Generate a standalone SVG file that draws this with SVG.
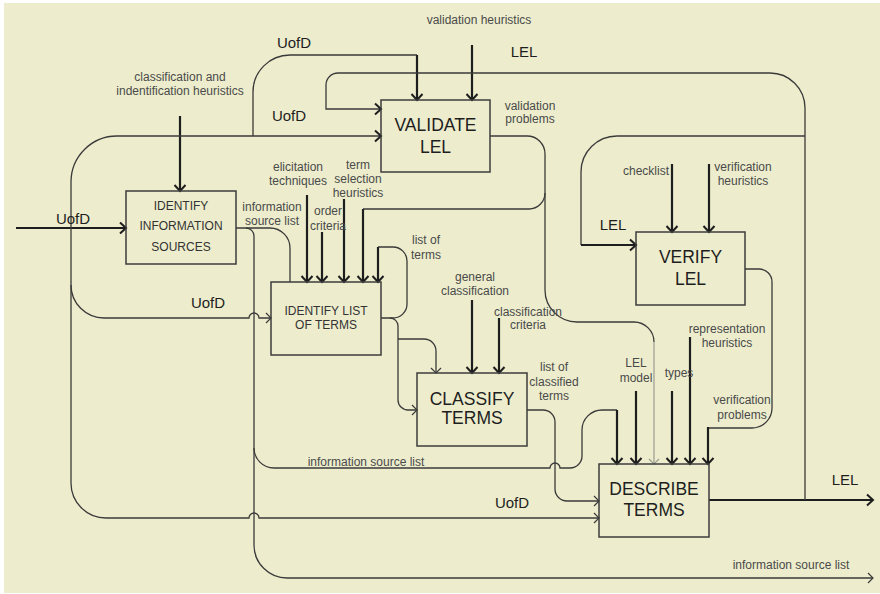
<svg xmlns="http://www.w3.org/2000/svg" width="880" height="594" viewBox="0 0 880 594">
<style>
text{font-family:"Liberation Sans",Arial,sans-serif;text-anchor:middle}
.lbl{font-size:12px;fill:#4a4a4a}
.big{font-size:15px;fill:#1e1e1e}
.t17{font-size:17.5px;fill:#1e1e1e}
.t12{font-size:12px;fill:#333}
.box{fill:none;stroke:#3c3c3c;stroke-width:1.5}
.ln{fill:none;stroke:#3a3a3a;stroke-width:1.3}
.tk{fill:none;stroke:#1e1e1e;stroke-width:2.2}
.gr{fill:none;stroke:#9a9a90;stroke-width:1.2}
</style>
<defs>
<marker id="ak" markerUnits="userSpaceOnUse" viewBox="-8 -8 10 16" refX="0" refY="0" markerWidth="10" markerHeight="16" orient="auto" overflow="visible">
<path d="M-6,-5.5 L0,0 L-6,5.5" fill="none" stroke="#1e1e1e" stroke-width="2"/>
</marker>
<marker id="an" markerUnits="userSpaceOnUse" viewBox="-8 -8 10 16" refX="0" refY="0" markerWidth="10" markerHeight="16" orient="auto" overflow="visible">
<path d="M-5,-5 L0,0 L-5,5" fill="none" stroke="#3a3a3a" stroke-width="1.2"/>
</marker>
<marker id="ag" markerUnits="userSpaceOnUse" viewBox="-8 -8 10 16" refX="0" refY="0" markerWidth="10" markerHeight="16" orient="auto" overflow="visible">
<path d="M-5,-5 L0,0 L-5,5" fill="none" stroke="#9a9a90" stroke-width="1.2"/>
</marker>
</defs>
<rect x="0" y="0" width="880" height="594" fill="#ffffff"/>
<rect x="4" y="3" width="876" height="590" fill="#EDEDCD"/>

<g id="connectors">
<!-- classification heuristics -->
<path class="tk" d="M180,116 V191" marker-end="url(#ak)"/>
<!-- UofD external input -->
<path class="tk" d="M16,228 H126" marker-end="url(#ak)"/>
<!-- UofD distribution -->
<path class="ln" d="M71,483 V182 A46,46 0 0 1 117,136 H381" marker-end="url(#ak)"/>
<path class="ln" d="M71,483 A35,35 0 0 0 106,518 H249 A5,5 0 0 1 259,518 H599" marker-end="url(#an)"/>
<path class="ln" d="M71,285 A33,33 0 0 0 104,318 H249 A5,5 0 0 1 259,318 H271" marker-end="url(#an)"/>
<path class="ln" d="M253,136 V92 A37,37 0 0 1 290,55 H417"/>
<path class="tk" d="M417,55 V100" marker-end="url(#ak)"/>
<!-- validation heuristics -->
<path class="tk" d="M472,45 V100" marker-end="url(#ak)"/>
<!-- LEL output and feedback -->
<path class="tk" d="M709,500 H873" marker-end="url(#ak)"/>
<path class="ln" d="M805,500 V108 A35,35 0 0 0 770,73 H338 A12,12 0 0 0 326,85 V109 H381" marker-end="url(#ak)"/>
<path class="ln" d="M805,136 H617 A36,36 0 0 0 581,172 V245"/>
<path class="tk" d="M581,245 H636" marker-end="url(#ak)"/>
<!-- information source list -->
<path class="ln" d="M236,228 H246 A8,8 0 0 1 254,236 V545 A33,33 0 0 0 287,578 H873" marker-end="url(#an)"/>
<path class="ln" d="M246,228 H270 A20,20 0 0 1 290,248 V282"/>
<path class="ln" d="M254,448 A20,20 0 0 0 274,468 H550 A5,5 0 0 1 560,468 H570 A12,12 0 0 0 582,456 V430 A20,20 0 0 1 602,410 H617"/>
<path class="tk" d="M617,410 V464" marker-end="url(#ak)"/>
<!-- list of terms -->
<path class="ln" d="M381,318 H393 A14,14 0 0 0 407,304 V261 A14,14 0 0 0 393,247 H378"/>
<path class="tk" d="M378,247 V282" marker-end="url(#ak)"/>
<path class="ln" d="M390,318 A8,8 0 0 1 398,326 V400 A10,10 0 0 0 408,410 H417" marker-end="url(#an)"/>
<path class="ln" d="M398,339 H424 A12,12 0 0 1 436,351 V373" marker-end="url(#an)"/>
<!-- identify list controls -->
<path class="tk" d="M307,195 V282" marker-end="url(#ak)"/>
<path class="tk" d="M322,232 V282" marker-end="url(#ak)"/>
<path class="tk" d="M344,199 V282" marker-end="url(#ak)"/>
<!-- classify controls -->
<path class="tk" d="M472,300 V373" marker-end="url(#ak)"/>
<path class="tk" d="M499,318 V373" marker-end="url(#ak)"/>
<!-- list of classified terms -->
<path class="ln" d="M527,410 H543 A12,12 0 0 1 555,422 V489 A12,12 0 0 0 567,501 H599" marker-end="url(#an)"/>
<!-- validation problems -->
<path class="ln" d="M490,136 H527 A18,18 0 0 1 545,154 V290 A32,32 0 0 0 577,322 H634 A20,20 0 0 1 654,342"/>
<path class="gr" d="M654,342 V464" marker-end="url(#ag)"/>
<path class="ln" d="M545,193 A16,16 0 0 1 529,209 H363"/>
<path class="tk" d="M363,209 V282" marker-end="url(#ak)"/>
<!-- verify controls -->
<path class="tk" d="M672,164 V232" marker-end="url(#ak)"/>
<path class="tk" d="M709,164 V232" marker-end="url(#ak)"/>
<!-- verification problems -->
<path class="ln" d="M745,269 H759 A13,13 0 0 1 772,282 V408 A20,20 0 0 1 752,428 H708"/>
<path class="tk" d="M708,427 V464" marker-end="url(#ak)"/>
<!-- describe controls -->
<path class="tk" d="M636,391 V464" marker-end="url(#ak)"/>
<path class="tk" d="M672,391 V464" marker-end="url(#ak)"/>
<path class="tk" d="M690,337 V464" marker-end="url(#ak)"/>

<!-- labels -->
<text class="lbl" x="180" y="81">classification and</text>
<text class="lbl" x="180" y="95">indentification heuristics</text>
<text class="big" x="73" y="224">UofD</text>
<text class="big" x="294" y="48">UofD</text>
<text class="big" x="289" y="121">UofD</text>
<text class="big" x="208" y="308">UofD</text>
<text class="big" x="512" y="508">UofD</text>
<text class="big" x="524" y="57">LEL</text>
<text class="big" x="613" y="230">LEL</text>
<text class="big" x="845" y="485">LEL</text>
<text class="lbl" x="479" y="24">validation heuristics</text>
<text class="lbl" x="530" y="110">validation</text>
<text class="lbl" x="530" y="123">problems</text>
<text class="lbl" x="272" y="211">information</text>
<text class="lbl" x="272" y="225">source list</text>
<text class="lbl" x="298" y="171">elicitation</text>
<text class="lbl" x="298" y="185">techniques</text>
<text class="lbl" x="358" y="169">term</text>
<text class="lbl" x="358" y="183">selection</text>
<text class="lbl" x="358" y="197">heuristics</text>
<text class="lbl" x="328" y="215">order</text>
<text class="lbl" x="328" y="230">criteria</text>
<text class="lbl" x="426" y="244">list of</text>
<text class="lbl" x="426" y="259">terms</text>
<text class="lbl" x="475" y="281">general</text>
<text class="lbl" x="475" y="295">classification</text>
<text class="lbl" x="528" y="316">classification</text>
<text class="lbl" x="528" y="329">criteria</text>
<text class="lbl" x="554" y="371">list of</text>
<text class="lbl" x="554" y="386">classified</text>
<text class="lbl" x="554" y="400">terms</text>
<text class="lbl" x="366" y="466">information source list</text>
<text class="lbl" x="791" y="569">information source list</text>
<text class="lbl" x="636" y="367">LEL</text>
<text class="lbl" x="636" y="382">model</text>
<text class="lbl" x="679" y="377">types</text>
<text class="lbl" x="727" y="333">representation</text>
<text class="lbl" x="727" y="347">heuristics</text>
<text class="lbl" x="742" y="404">verification</text>
<text class="lbl" x="742" y="419">problems</text>
<text class="lbl" x="646" y="175">checklist</text>
<text class="lbl" x="743" y="171">verification</text>
<text class="lbl" x="743" y="185">heuristics</text>
</g>

<g id="identify-information-sources">
<rect class="box" x="126" y="191" width="110" height="73"/>
<text class="t12" x="181" y="210">IDENTIFY</text>
<text class="t12" x="181" y="230">INFORMATION</text>
<text class="t12" x="181" y="251">SOURCES</text>
</g>
<g id="validate-lel">
<rect class="box" x="381" y="100" width="109" height="72"/>
<text class="t17" x="435.5" y="131">VALIDATE</text>
<text class="t17" x="435.5" y="153">LEL</text>
</g>
<g id="verify-lel">
<rect class="box" x="636" y="232" width="109" height="73"/>
<text class="t17" x="690.5" y="263">VERIFY</text>
<text class="t17" x="690.5" y="285">LEL</text>
</g>
<g id="identify-list-of-terms">
<rect class="box" x="271" y="282" width="110" height="73"/>
<text class="t12" x="326" y="315">IDENTIFY LIST</text>
<text class="t12" x="326" y="329">OF TERMS</text>
</g>
<g id="classify-terms">
<rect class="box" x="417" y="373" width="110" height="73"/>
<text class="t17" x="472" y="405">CLASSIFY</text>
<text class="t17" x="472" y="424">TERMS</text>
</g>
<g id="describe-terms">
<rect class="box" x="599" y="464" width="110" height="73"/>
<text class="t17" x="654" y="495">DESCRIBE</text>
<text class="t17" x="654" y="516">TERMS</text>
</g>
</svg>
